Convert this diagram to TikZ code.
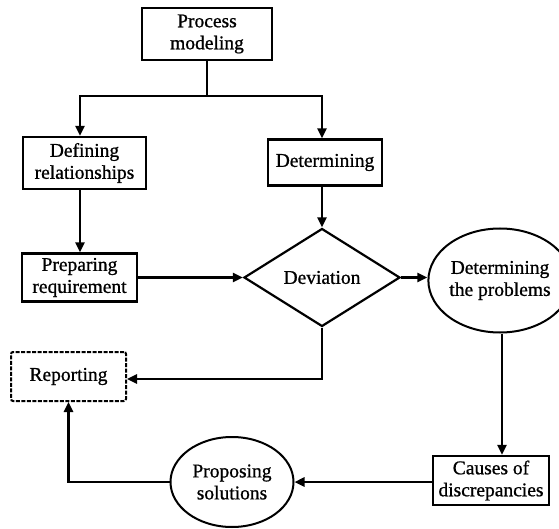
\documentclass[tikz,border=0pt]{standalone}
\usepackage{fontspec}
\setmainfont[FakeBold=0.9]{Liberation Serif}
\usetikzlibrary{shapes.geometric,arrows.meta}
\begin{document}
\begin{tikzpicture}[x=1pt,y=-1pt,
  every node/.style={font=\fontsize{19.5}{22}\selectfont, align=center, inner sep=0pt},
  boxnode/.style={draw, line width=2.2pt, minimum width=#1, minimum height=50pt},
  boxnode/.default=115pt,
  oval/.style={draw, ellipse, line width=2pt},
  flow/.style={line width=2.4pt, -{Triangle[length=10pt,width=9pt]}},
  plain/.style={line width=2.4pt}]
\useasboundingbox (0,0) rectangle (559,529);
% boxes
\node[boxnode=130pt, minimum height=52pt] (pm) at (207,34) {Process\\modeling};
\node[boxnode=123pt, minimum height=52pt] (dr) at (84.5,163) {Defining\\relationships};
\node[boxnode=114pt, minimum height=46pt] (det) at (325,162.5) {Determining};
\node[boxnode=115pt, minimum height=48pt] (pr) at (79.5,277.5) {Preparing\\requirement};
\node[draw, diamond, aspect=1.6, line width=2.2pt, minimum width=156pt, minimum height=98pt] (dev) at (322,277.5) {Deviation};
\node[oval, minimum width=116pt, minimum height=104pt] (dp) at (500,280.5) {Determining\\the problems};
\node[draw, line width=2pt, dash pattern=on 4pt off 1.5pt, rounded corners=2pt,
      minimum width=115pt, minimum height=49pt] (rep) at (68.5,376.5) {Reporting};
\node[boxnode=116pt, minimum height=49pt] (cd) at (491,480.5) {Causes of\\discrepancies};
\node[oval, minimum width=123pt, minimum height=90pt] (ps) at (232,482) {Proposing\\solutions};
% junction below the top box
\coordinate (split) at (207,96);
\draw[plain] (pm.south) -- (split);
\draw[flow] (split) -| (dr.north -| 80,0);
\draw[flow] (split) -| (dev.north |- det.north);
% remaining flow
\draw[flow] (dr.south -| 80,0) -- (pr.north -| 80,0);
\draw[flow] (pr.east) -- (dev.west);
\draw[flow] (dev.north |- det.south) -- (dev.north);
\draw[flow] (dev.east) -- (dp.west |- dev.east);
\draw[flow] (dev.south) |- (rep.east |- 0,379);
\draw[flow] (dp.south -| 502,0) -- (cd.north -| 502,0);
\draw[flow] (cd.west |- 0,482) -- (ps.east);
\draw[flow] (ps.west) -| (rep.south);
\end{tikzpicture}
\end{document}
